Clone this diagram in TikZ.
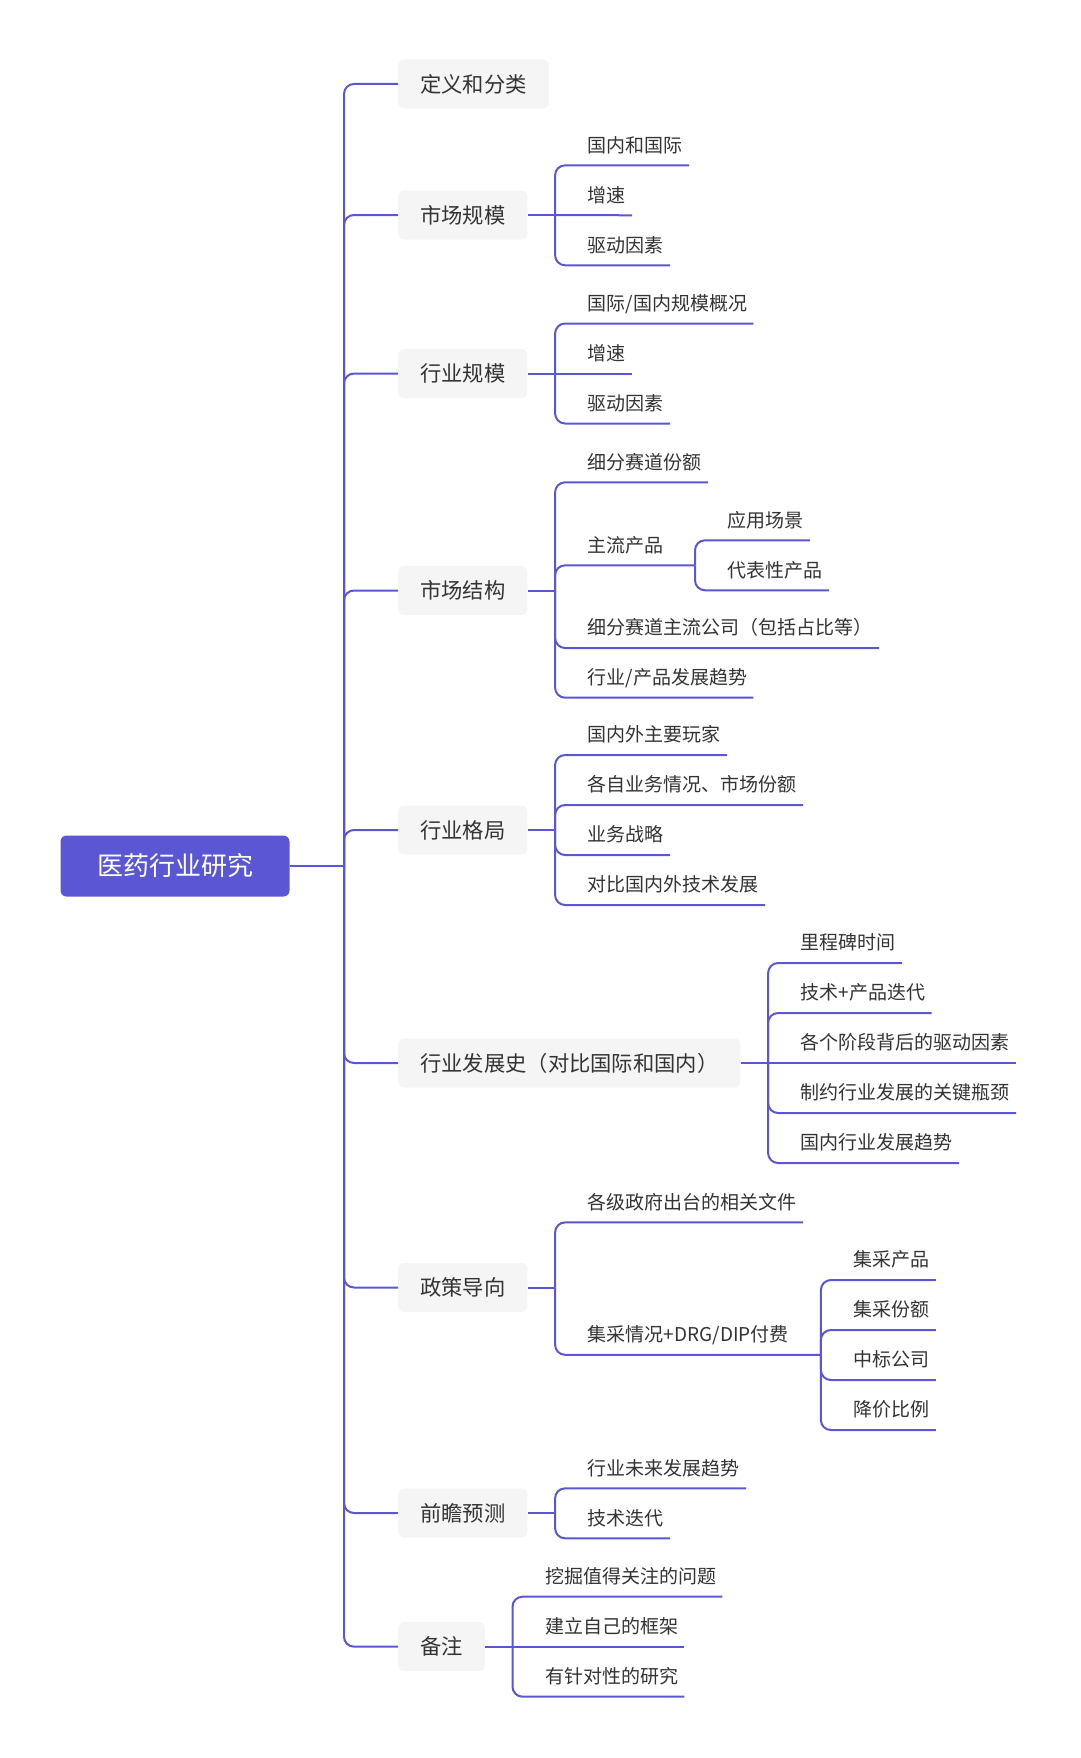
\documentclass[tikz,border=0pt]{standalone}
\usepackage{fontspec}
\setmainfont{Noto Sans CJK SC}
\usepackage{xcolor}
\usepackage{tikz}
\usetikzlibrary{positioning}

\definecolor{mainblue}{RGB}{90,86,212}
\definecolor{boxgray}{RGB}{245,245,246}
\definecolor{textgray}{RGB}{51,51,51}

\begin{document}
\begin{tikzpicture}[
			x=1pt, y=-1pt,
			root/.style={
				fill=mainblue,
				text=white,
				rounded corners=6pt,
				minimum width=229pt,
				minimum height=61pt,
				text height=22.9pt, text depth=3.1pt,
				font=\fontsize{26}{30}\selectfont
			},
			topic/.style={
				anchor=west,
				fill=boxgray,
				text=textgray,
				rounded corners=6pt,
				inner xsep=22pt,
				minimum height=49pt,
				text height=18.7pt, text depth=2.6pt,
				font=\fontsize{21.3}{25}\selectfont
			},
			leaf/.style={
				anchor=south west,
				xshift=26.5pt,
				text=textgray,
				inner xsep=6pt, inner ysep=0pt,
				text height=16.7pt, text depth=13pt,
				font=\fontsize{19}{23}\selectfont
			},
			link/.style={draw=mainblue, line width=2pt, rounded corners=10pt},
			node distance=27.5pt
			]
			
			\useasboundingbox (0,0) rectangle (1080,1758);
			
			% -------------------------------
			% 中心主题
			% -------------------------------
			\node[root] (root) at (175,866) {医药行业研究};
			\coordinate (j0) at (344,866);
			
			% -------------------------------
			% 一级主题
			% -------------------------------
			\node[topic] (dyfl) at (398,84)     {定义和分类};
			\node[topic] (scgm) at (398,215)    {市场规模};
			\node[topic] (hygm) at (398,373.5)  {行业规模};
			\node[topic] (scjg) at (398,590.5)  {市场结构};
			\node[topic] (hygj) at (398,830)    {行业格局};
			\node[topic] (fzs)  at (398,1063)   {行业发展史（对比国际和国内）};
			\node[topic] (zcdx) at (398,1287.5) {政策导向};
			\node[topic] (qzyc) at (398,1513)   {前瞻预测};
			\node[topic] (bz)   at (398,1646.7) {备注};
			
			\coordinate[right=of scgm] (j2);
			\coordinate[right=of hygm] (j3);
			\coordinate[right=of scjg] (j4);
			\coordinate[right=of hygj] (j5);
			\coordinate[right=of fzs]  (j6);
			\coordinate[right=of zcdx] (j7);
			\coordinate[right=of qzyc] (j8);
			\coordinate[right=of bz]   (j9);
			
			% -------------------------------
			% 市场规模
			% -------------------------------
			\node[leaf] (scgm1) at (j2 |- 0,165.3) {国内和国际};
			\node[leaf] (scgm2) at (j2 |- 0,215.3) {增速};
			\node[leaf] (scgm3) at (j2 |- 0,265.3) {驱动因素};
			
			% -------------------------------
			% 行业规模
			% -------------------------------
			\node[leaf] (hygm1) at (j3 |- 0,323.5) {国际/国内规模概况};
			\node[leaf] (hygm2) at (j3 |- 0,373.5) {增速};
			\node[leaf] (hygm3) at (j3 |- 0,423.5) {驱动因素};
			
			% -------------------------------
			% 市场结构
			% -------------------------------
			\node[leaf] (scjg1) at (j4 |- 0,482.3) {细分赛道份额};
			\node[leaf] (zlcp)  at (j4 |- 0,565.3) {主流产品};
			\node[leaf] (scjg3) at (j4 |- 0,648)   {细分赛道主流公司（包括占比等）};
			\node[leaf] (scjg4) at (j4 |- 0,697.7) {行业/产品发展趋势};
			\coordinate[right=25pt of zlcp.south east] (j4b);
			\node[leaf] (zlcp1) at (j4b |- 0,540.3) {应用场景};
			\node[leaf] (zlcp2) at (j4b |- 0,590.3) {代表性产品};
			
			% -------------------------------
			% 行业格局
			% -------------------------------
			\node[leaf] (hygj1) at (j5 |- 0,755)   {国内外主要玩家};
			\node[leaf] (hygj2) at (j5 |- 0,805)   {各自业务情况、市场份额};
			\node[leaf] (hygj3) at (j5 |- 0,855)   {业务战略};
			\node[leaf] (hygj4) at (j5 |- 0,905)   {对比国内外技术发展};
			
			% -------------------------------
			% 行业发展史
			% -------------------------------
			\node[leaf] (fzs1) at (j6 |- 0,963)  {里程碑时间};
			\node[leaf] (fzs2) at (j6 |- 0,1013) {技术+产品迭代};
			\node[leaf] (fzs3) at (j6 |- 0,1063) {各个阶段背后的驱动因素};
			\node[leaf] (fzs4) at (j6 |- 0,1113) {制约行业发展的关键瓶颈};
			\node[leaf] (fzs5) at (j6 |- 0,1163) {国内行业发展趋势};
			
			% -------------------------------
			% 政策导向
			% -------------------------------
			\node[leaf] (zcdx1) at (j7 |- 0,1222.4) {各级政府出台的相关文件};
			\node[leaf] (jcqk)  at (j7 |- 0,1354.8) {集采情况+DRG/DIP付费};
			\coordinate[right=26pt of jcqk.south east] (j7b);
			\node[leaf] (jcqk1) at (j7b |- 0,1280) {集采产品};
			\node[leaf] (jcqk2) at (j7b |- 0,1330) {集采份额};
			\node[leaf] (jcqk3) at (j7b |- 0,1380) {中标公司};
			\node[leaf] (jcqk4) at (j7b |- 0,1430) {降价比例};
			
			% -------------------------------
			% 前瞻预测
			% -------------------------------
			\node[leaf] (qzyc1) at (j8 |- 0,1488.3) {行业未来发展趋势};
			\node[leaf] (qzyc2) at (j8 |- 0,1538.3) {技术迭代};
			
			% -------------------------------
			% 备注
			% -------------------------------
			\node[leaf] (bz1) at (j9 |- 0,1596.7) {挖掘值得关注的问题};
			\node[leaf] (bz2) at (j9 |- 0,1646.7) {建立自己的框架};
			\node[leaf] (bz3) at (j9 |- 0,1696.7) {有针对性的研究};
			
			% -------------------------------
			% 连线
			% -------------------------------
			\draw[link] (root.east) -- (j0);
			\draw[link] (j0) |- (dyfl.west);
			\draw[link] (j0) |- (scgm.west);
			\draw[link] (j0) |- (hygm.west);
			\draw[link] (j0) |- (scjg.west);
			\draw[link] (j0) |- (hygj.west);
			\draw[link] (j0) |- (fzs.west);
			\draw[link] (j0) |- (zcdx.west);
			\draw[link] (j0) |- (qzyc.west);
			\draw[link] (j0) |- (bz.west);
			
			\draw[link] (scgm.east) -- (j2);
			\draw[link] (j2) |- (scgm1.south east);
			\draw[link] (j2) -- (scgm2.south east);
			\draw[link] (j2) |- (scgm3.south east);
			
			\draw[link] (hygm.east) -- (j3);
			\draw[link] (j3) |- (hygm1.south east);
			\draw[link] (j3) -- (hygm2.south east);
			\draw[link] (j3) |- (hygm3.south east);
			
			\draw[link] (scjg.east) -- (j4);
			\draw[link] (j4) |- (scjg1.south east);
			\draw[link] (j4) |- (j4b);
			\draw[link] (j4) |- (scjg3.south east);
			\draw[link] (j4) |- (scjg4.south east);
			\draw[link] (j4b) |- (zlcp1.south east);
			\draw[link] (j4b) |- (zlcp2.south east);
			
			\draw[link] (hygj.east) -- (j5);
			\draw[link] (j5) |- (hygj1.south east);
			\draw[link] (j5) |- (hygj2.south east);
			\draw[link] (j5) |- (hygj3.south east);
			\draw[link] (j5) |- (hygj4.south east);
			
			\draw[link] (fzs.east) -- (j6);
			\draw[link] (j6) |- (fzs1.south east);
			\draw[link] (j6) |- (fzs2.south east);
			\draw[link] (j6) -- (fzs3.south east);
			\draw[link] (j6) |- (fzs4.south east);
			\draw[link] (j6) |- (fzs5.south east);
			
			\draw[link] (zcdx.east) -- (j7);
			\draw[link] (j7) |- (zcdx1.south east);
			\draw[link] (j7) |- (j7b);
			\draw[link] (j7b) |- (jcqk1.south east);
			\draw[link] (j7b) |- (jcqk2.south east);
			\draw[link] (j7b) |- (jcqk3.south east);
			\draw[link] (j7b) |- (jcqk4.south east);
			
			\draw[link] (qzyc.east) -- (j8);
			\draw[link] (j8) |- (qzyc1.south east);
			\draw[link] (j8) |- (qzyc2.south east);
			
			\draw[link] (bz.east) -- (j9);
			\draw[link] (j9) |- (bz1.south east);
			\draw[link] (j9) -- (bz2.south east);
			\draw[link] (j9) |- (bz3.south east);
			
		\end{tikzpicture}
\end{document}
